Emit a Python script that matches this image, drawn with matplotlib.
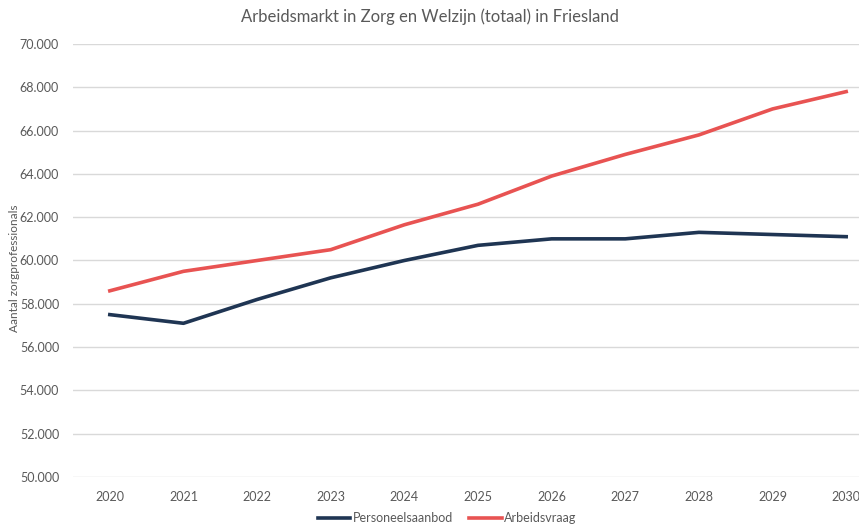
import matplotlib.pyplot as plt
from matplotlib.ticker import FuncFormatter

# Data
jaren = ['2020', '2021', '2022', '2023', '2024', '2025', '2026', '2027', '2028', '2029', '2030']
personeelsaanbod = [57500, 57100, 58200, 59200, 60000, 60700, 61000, 61000, 61300, 61200, 61100]
arbeidsvraag = [58600, 59500, 60000, 60500, 61650, 62600, 63900, 64900, 65800, 67000, 67800]

plt.rcParams['font.family'] = ['Lato', 'DejaVu Sans']
grijs = '#595959'

fig = plt.figure(figsize=(8.59, 5.28), dpi=100)
ax = fig.add_axes([73 / 859, 1 - 477 / 528, 810 / 859, 433 / 528])

x = range(len(jaren))
ax.plot(x, personeelsaanbod, color='#1f3553', linewidth=2.6, label='Personeelsaanbod')
ax.plot(x, arbeidsvraag, color='#e85352', linewidth=2.6, label='Arbeidsvraag')

ax.set_xlim(-0.5, len(jaren) - 0.5)
ax.set_ylim(50000, 70000)
ax.set_yticks(range(50000, 70001, 2000))
ax.yaxis.set_major_formatter(FuncFormatter(lambda v, p: f'{int(v):,}'.replace(',', '.')))
ax.set_xticks(list(x))
ax.set_xticklabels(jaren)

ax.grid(axis='y', color='#d9d9d9', linewidth=1)
ax.set_axisbelow(True)
for s in ax.spines.values():
    s.set_visible(False)
ax.tick_params(axis='both', length=0, labelsize=9, colors=grijs)
ax.tick_params(axis='x', pad=10)
ax.tick_params(axis='y', pad=10)

# y-as titel
fig.text(15 / 859, 1 - 268 / 528, 'Aantal zorgprofessionals', rotation=90,
         ha='center', va='center', fontsize=8.5, color=grijs)
fig.text(430 / 859, 1 - 17 / 528, 'Arbeidsmarkt in Zorg en Welzijn (totaal) in Friesland',
         ha='center', va='center', fontsize=12, color=grijs)

leg = fig.legend(loc='center', bbox_to_anchor=(447 / 859, 1 - 518 / 528), ncol=2, frameon=False,
                 fontsize=9, handlelength=2.6, handletextpad=0.2, columnspacing=1.3)
for t in leg.get_texts():
    t.set_color(grijs)

plt.savefig('out.png', dpi=100)
